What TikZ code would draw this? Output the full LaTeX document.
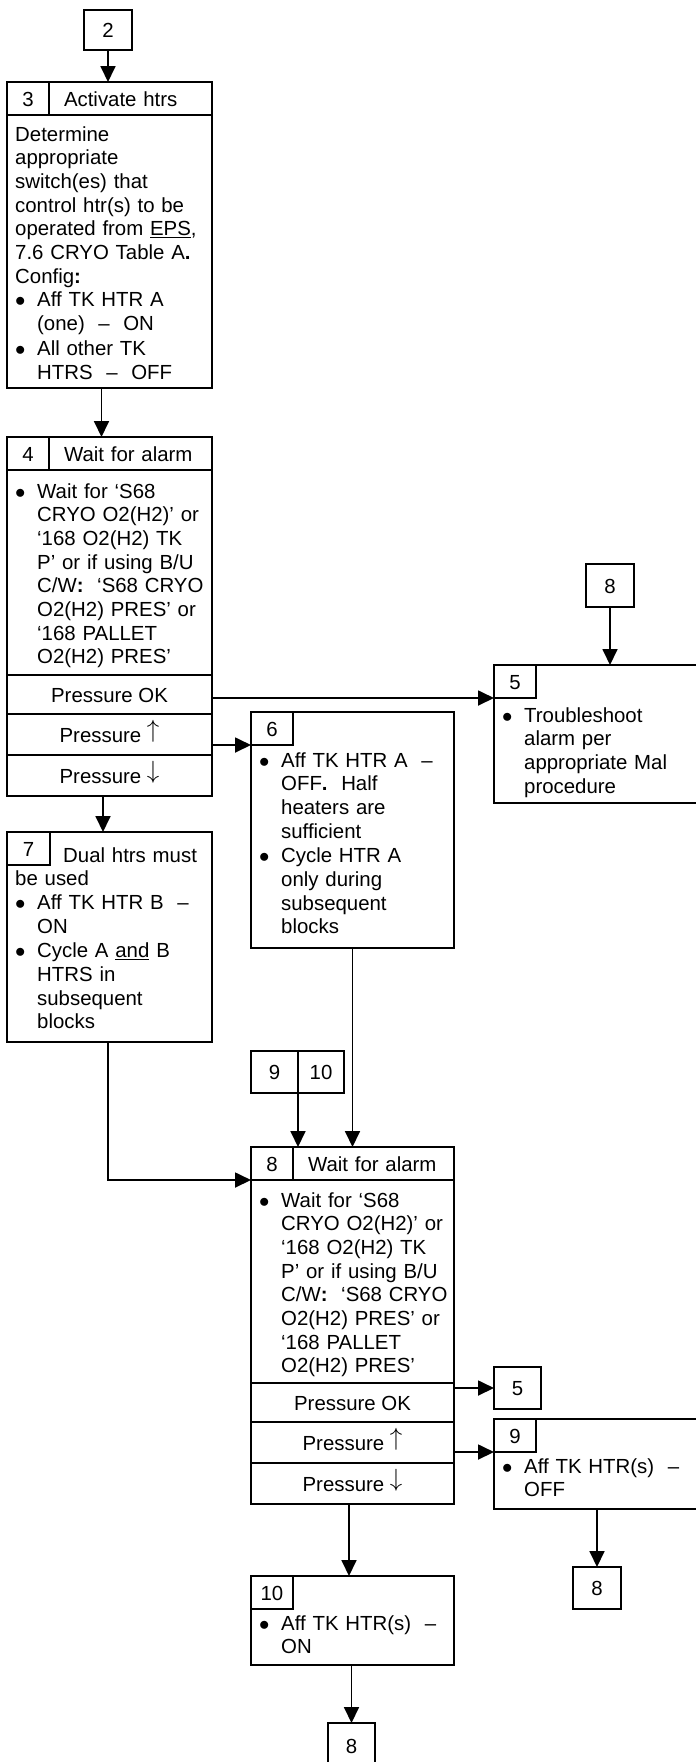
\documentclass[tikz,border=0pt]{standalone}
\usepackage{fontspec}
\setmainfont{Liberation Sans}
\usetikzlibrary{arrows.meta, positioning}

\newcommand{\blkfont}{\fontsize{20.4pt}{23.7pt}\selectfont}
\newcommand{\bul}[1]{\makebox[22pt][l]{$\bullet$}\begin{tabular}[t]{@{}l@{}}#1\end{tabular}}
\newcommand{\presup}{\raisebox{4.5pt}{\fontsize{24pt}{24pt}\selectfont$\uparrow$}}
\newcommand{\presdn}{\raisebox{4.5pt}{\fontsize{24pt}{24pt}\selectfont$\downarrow$}}

\begin{document}
\begin{tikzpicture}[
  x=1pt, y=-1pt,
  every node/.style={font=\blkfont},
  blk/.style={draw, line width=1.8pt, anchor=north west, inner sep=0pt,
              outer sep=0pt},
  numbox/.style={blk, minimum width=42pt, minimum height=33pt,
                 text height=15pt, text depth=0pt},
  titlebox/.style={blk, minimum height=33pt, inner xsep=15pt, align=left,
                   text height=15pt, text depth=0pt},
  rowbox/.style={blk, minimum height=41pt, text height=15pt, text depth=0pt},
  refbox/.style={draw, line width=1.4pt, anchor=north west, inner sep=0pt,
                 outer sep=0pt, text height=15pt, text depth=0pt},
  body/.style={anchor=base west, inner sep=0pt, align=left, text width=200pt},
  arr/.style={line width=1.8pt, -{Triangle[length=16pt,width=15pt]}}
]
\useasboundingbox (0,0) rectangle (696,1762);
% block 3
\node[refbox, minimum width=48pt, minimum height=40pt] (c2) at (84,10) {2};
\node[blk, minimum width=205pt, minimum height=306pt] (b3) at (7,82) {};
\node[numbox] (n3) at (b3.north west) {3};
\node[titlebox, text width=133pt, right=0pt of n3] (h3) {Activate htrs};
\node[body] (t3) at (15,141) {Determine\\appropriate\\switch(es) that\\
  control htr(s) to be\\operated from \underline{EPS},\\
  7.6 CRYO Table A\textbf{.}\\Config\textbf{:}\\
  \bul{Aff TK HTR A\\(one)\ \ –\ \ ON}\\
  \bul{All other TK\\HTRS\ \ –\ \ OFF}};
% block 4
\node[blk, minimum width=205pt, minimum height=238pt] (b4) at (7,437) {};
\node[numbox] (n4) at (b4.north west) {4};
\node[titlebox, text width=133pt, right=0pt of n4] (h4) {Wait for alarm};
\node[body] (t4) at (15,498) {\bul{Wait for ‘S68\\CRYO O2(H2)’ or\\
  ‘168 O2(H2) TK\\P’ or if using B/U\\C/W\textbf{:}\ \ ‘S68 CRYO\\
  O2(H2) PRES’ or\\‘168 PALLET\\O2(H2) PRES’}};
\node[rowbox, minimum width=205pt, minimum height=39pt, below=0pt of b4] (ok4) {Pressure OK};
\node[rowbox, minimum width=205pt, below=0pt of ok4] (up4) {Pressure \presup};
\node[rowbox, minimum width=205pt, below=0pt of up4] (dn4) {Pressure \presdn};
% block 5
\node[refbox, minimum width=48pt, minimum height=43pt] (c8a) at (586,564) {8};
\node[blk, minimum width=206pt, minimum height=138pt] (b5) at (494,665) {};
\node[numbox] (n5) at (b5.north west) {5};
\node[body] (t5) at (502,722) {\bul{Troubleshoot\\alarm per\\appropriate Mal\\procedure}};
% block 6
\node[blk, minimum width=203pt, minimum height=236pt] (b6) at (251,712) {};
\node[numbox] (n6) at (b6.north west) {6};
\node[body] (t6) at (259,767) {\bul{Aff TK HTR A\ \ –\\OFF\textbf{.}\ \ Half\\
  heaters are\\sufficient}\\\bul{Cycle HTR A\\only during\\subsequent\\blocks}};
% block 7
\node[blk, minimum width=205pt, minimum height=210pt] (b7) at (7,832) {};
\node[numbox, minimum width=43pt] (n7) at (b7.north west) {7};
\node[body] (t7) at (15,862) {\hspace*{48pt}Dual htrs must\\be used\\
  \bul{Aff TK HTR B\ \ –\\ON}\\\bul{Cycle A \underline{and} B\\HTRS in\\subsequent\\blocks}};
% block 8
\node[refbox, minimum width=47pt, minimum height=42pt] (c9) at (251,1051) {9};
\node[refbox, minimum width=46pt, minimum height=42pt, right=0pt of c9] (c10) {10};
\node[blk, minimum width=203pt, minimum height=236pt] (b8) at (251,1147) {};
\node[numbox] (n8) at (b8.north west) {8};
\node[titlebox, text width=131pt, right=0pt of n8] (h8) {Wait for alarm};
\node[body] (t8) at (259,1207) {\bul{Wait for ‘S68\\CRYO O2(H2)’ or\\
  ‘168 O2(H2) TK\\P’ or if using B/U\\C/W\textbf{:}\ \ ‘S68 CRYO\\
  O2(H2) PRES’ or\\‘168 PALLET\\O2(H2) PRES’}};
\node[rowbox, minimum width=203pt, minimum height=39pt, below=0pt of b8] (ok8) {Pressure OK};
\node[rowbox, minimum width=203pt, below=0pt of ok8] (up8) {Pressure \presup};
\node[rowbox, minimum width=203pt, below=0pt of up8] (dn8) {Pressure \presdn};
\node[refbox, minimum width=47pt, minimum height=42pt] (c5) at (494,1367) {5};
% blocks 9 and 10
\node[blk, minimum width=206pt, minimum height=90pt] (b9) at (494,1419) {};
\node[numbox] (n9) at (b9.north west) {9};
\node[body] (t9) at (502,1473) {\bul{Aff TK HTR(s)\ \ –\\OFF}};
\node[refbox, minimum width=48pt, minimum height=42pt] (c8b) at (573,1567) {8};
\node[blk, minimum width=203pt, minimum height=89pt] (b10) at (251,1576) {};
\node[numbox] (n10) at (b10.north west) {10};
\node[body] (t10) at (259,1630) {\bul{Aff TK HTR(s)\ \ –\\ON}};
\node[refbox, minimum width=47pt, minimum height=45pt] (c8c) at (328,1723) {8};
% connectors
\draw[arr] (c2) -- (c2 |- b3.north);
\draw[arr] ([xshift=-8pt]b3.south) -- ([xshift=-8pt]b4.north);
\draw[arr] (ok4.east |- n5.south west) -- (n5.south west);
\draw[arr] (up4.east |- n6.south west) -- (n6.south west);
\draw[arr] ([xshift=-6.5pt]dn4.south) -- ([xshift=-6.5pt]b7.north);
\draw[arr] (c8a) -- (c8a |- b5.north);
\draw[arr] ([xshift=-1.5pt]b7.south) |- (n8.south west);
\draw[arr] (b6.south) -- (b6.south |- b8.north);
\draw[arr] (c9.south east) -- (c9.south east |- b8.north);
\draw[arr] (ok8.east |- c5.west) -- (c5.west);
\draw[arr] (up8.east |- n9.south west) -- (n9.south west);
\draw[arr] ([xshift=-3.5pt]dn8.south) -- ([xshift=-3.5pt]b10.north);
\draw[arr] (c8b |- b9.south) -- (c8b);
\draw[arr] (c8c |- b10.south) -- (c8c);
\end{tikzpicture}
\end{document}
